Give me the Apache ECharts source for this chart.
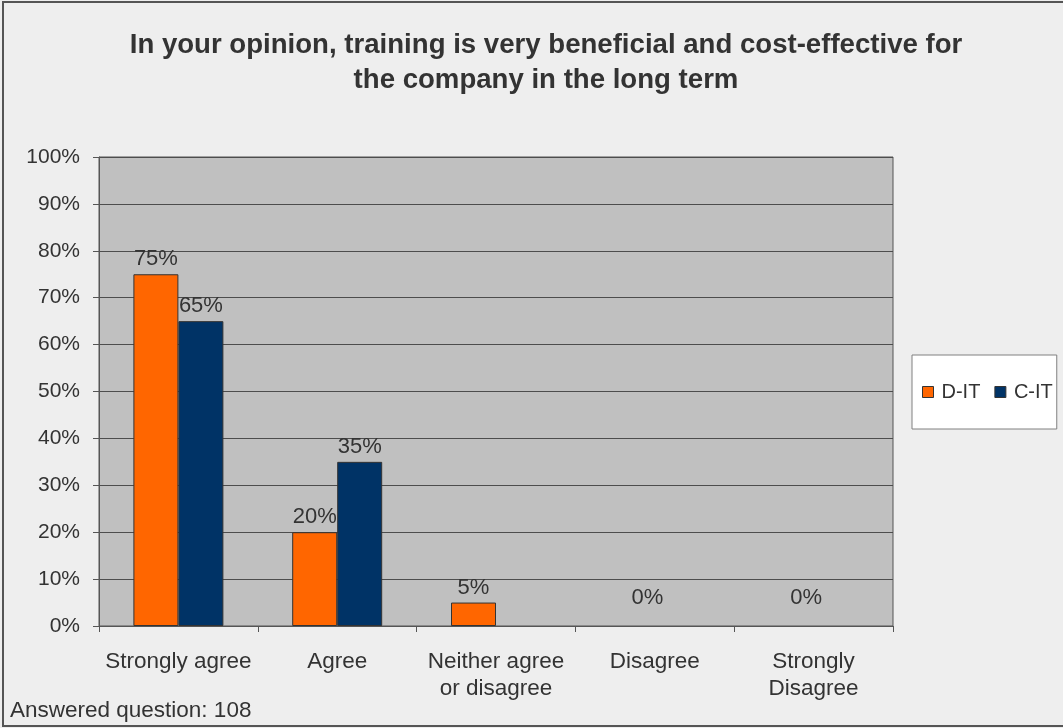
<!DOCTYPE html>
<html>
<head>
<meta charset="utf-8">
<script src="https://cdn.jsdelivr.net/npm/echarts@6/dist/echarts.min.js"></script>
<style>
  html, body { margin: 0; padding: 0; background: #eeeeee; }
  #chart { width: 1063px; height: 728px; }
</style>
</head>
<body>
<div id="chart"></div>
<script>
// Survey answers, share of respondents per group (%)
const categories = ['Strongly agree', 'Agree', 'Neither agree\nor disagree', 'Disagree', 'Strongly\nDisagree'];
const dItValues = [75, 20, 5, 0, 0];
const cItValues = [65, 35, null, null, null];
const seriesNames = ['D-IT', 'C-IT'];
const yTicks = [0, 10, 20, 30, 40, 50, 60, 70, 80, 90, 100];

const FONT = '"Liberation Sans", Arial, sans-serif';
const TEXT = '#333333';

// zero-valued bars draw no outline; their labels sit a little higher and to the right
function toItems(values) {
  return values.map(function (v) {
    if (v === 0) {
      return { value: v, itemStyle: { borderWidth: 0 }, label: { offset: [15, -13] } };
    }
    return v;
  });
}

const chart = echarts.init(document.getElementById('chart'));

const barLabel = {
  show: true,
  position: 'top',
  distance: 4,
  formatter: '{c}%',
  fontFamily: FONT,
  fontSize: 22,
  color: TEXT
};

chart.setOption({
  backgroundColor: '#eeeeee',
  animation: false,
  title: {
    text: 'In your opinion, training is very beneficial and cost-effective for\nthe company in the long term',
    left: 541,
    textAlign: 'center',
    top: 23,
    textStyle: {
      fontFamily: FONT,
      fontSize: 27.6,
      fontWeight: 'bold',
      color: TEXT,
      lineHeight: 35
    }
  },
  legend: {
    data: seriesNames,
    left: 912,
    top: 355,
    orient: 'horizontal',
    icon: 'rect',
    itemWidth: 11,
    itemHeight: 11,
    itemGap: 14,
    padding: [27, 4, 27, 10],
    backgroundColor: '#ffffff',
    borderColor: '#808080',
    borderWidth: 1,
    itemStyle: { borderColor: '#333333', borderWidth: 1 },
    textStyle: {
      fontFamily: FONT,
      fontSize: 20,
      color: TEXT,
      padding: [0, 0, 0, 3]
    }
  },
  grid: {
    left: 99,
    right: 170,
    top: 157,
    bottom: 102,
    show: true,
    backgroundColor: '#c0c0c0',
    borderColor: '#555555',
    borderWidth: 1
  },
  xAxis: {
    type: 'category',
    data: categories,
    axisLine: { lineStyle: { color: '#555555', width: 1 } },
    axisTick: { show: true, alignWithLabel: false, length: 6, lineStyle: { color: '#555555' } },
    axisLabel: {
      fontFamily: FONT,
      fontSize: 22.5,
      color: TEXT,
      margin: 22,
      lineHeight: 27,
      interval: 0
    }
  },
  yAxis: {
    type: 'value',
    min: 0,
    max: 100,
    interval: 10,
    axisLine: { show: true, lineStyle: { color: '#555555', width: 1 } },
    axisTick: { show: true, length: 6, lineStyle: { color: '#555555' } },
    splitLine: { show: true, lineStyle: { color: '#4d4d4d', width: 1 } },
    axisLabel: {
      fontFamily: FONT,
      fontSize: 21,
      color: TEXT,
      margin: 19,
      formatter: function (v) { return yTicks.indexOf(v) >= 0 ? v + '%' : ''; }
    }
  },
  series: [
    {
      name: seriesNames[0],
      type: 'bar',
      data: toItems(dItValues),
      barWidth: 45,
      barGap: '0%',
      itemStyle: { color: '#ff6600', borderColor: '#333333', borderWidth: 1 },
      label: barLabel
    },
    {
      name: seriesNames[1],
      type: 'bar',
      data: toItems(cItValues),
      barWidth: 45,
      barGap: '0%',
      itemStyle: { color: '#003366', borderColor: '#333333', borderWidth: 1 },
      label: barLabel
    }
  ],
  graphic: [
    {
      type: 'rect',
      silent: true,
      shape: { x: 3, y: 2, width: 1080, height: 724 },
      style: { fill: 'none', stroke: '#555555', lineWidth: 2 }
    },
    {
      type: 'text',
      left: 10,
      top: 699,
      style: {
        text: 'Answered question: 108',
        font: '22.5px ' + FONT,
        fill: TEXT
      }
    }
  ]
});
</script>
</body>
</html>
